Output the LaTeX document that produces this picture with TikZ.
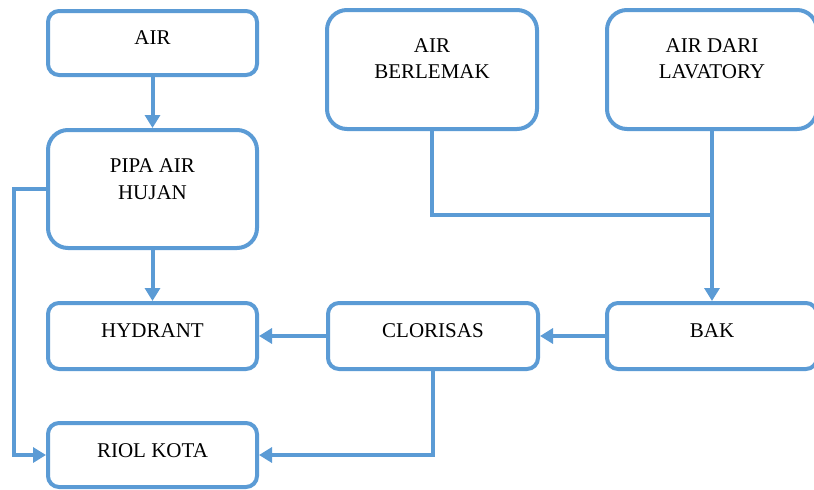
\documentclass[tikz,border=0pt]{standalone}
\usepackage{fontspec}
\setmainfont{Liberation Serif}
\usetikzlibrary{arrows.meta}
\definecolor{flowblue}{HTML}{5B9BD5}
\tikzset{
  box/.style={draw=flowblue, line width=4pt, fill=white, inner sep=0pt,
              minimum width=#1},
  box/.default=209pt,
  lbl/.style={anchor=base, inner sep=0pt, font=\fontsize{21}{26}\selectfont},
  flow/.style={draw=flowblue, line width=4pt},
  arr/.style={flow, -{Triangle[width=15pt,length=13pt]}}
}
\begin{document}
\begin{tikzpicture}[x=1pt, y=-1pt]
  \useasboundingbox (0,0) rectangle (814,490);

  % boxes
  \node[box, minimum height=64pt, rounded corners=11pt] (air) at (152.5,43) {};
  \node[box, minimum height=118pt, rounded corners=20pt] (pipa) at (152.5,189) {};
  \node[box, minimum height=66pt, rounded corners=11pt] (hydrant) at (152.5,336) {};
  \node[box, minimum height=64pt, rounded corners=11pt] (riol) at (152.5,455) {};
  \node[box=210pt, minimum height=119pt, rounded corners=20pt] (lemak) at (432,69.5) {};
  \node[box=210pt, minimum height=119pt, rounded corners=20pt] (lav) at (712,69.5) {};
  \node[box=210pt, minimum height=66pt, rounded corners=11pt] (clor) at (433,336) {};
  \node[box=210pt, minimum height=66pt, rounded corners=11pt] (bak) at (712,336) {};

  % labels
  \node[lbl] (air-t) at (152.5,44) {AIR};
  \node[lbl] (pipa-t1) at (152.5,172) {PIPA AIR};
  \node[lbl] (pipa-t2) at (152.5,199) {HUJAN};
  \node[lbl] (hydrant-t) at (152.5,337) {HYDRANT};
  \node[lbl] (riol-t) at (152.5,457) {RIOL KOTA};
  \node[lbl] (lemak-t1) at (432,52) {AIR};
  \node[lbl] (lemak-t2) at (432,78) {BERLEMAK};
  \node[lbl] (lav-t1) at (712,52) {AIR DARI};
  \node[lbl] (lav-t2) at (712,78) {LAVATORY};
  \node[lbl] (clor-t) at (433,337) {CLORISAS};
  \node[lbl] (bak-t) at (712,337) {BAK};

  % junction points
  \coordinate (join) at (lav.south |- 0,215);
  \coordinate (lefttop) at (14,0 |- pipa.west);
  \coordinate (leftbot) at (14,0 |- riol.west);
  \coordinate (clordown) at (clor.south |- riol.east);

  % connectors
  \draw[arr] (air) -- (pipa);
  \draw[arr] (pipa) -- (hydrant);
  \draw[flow] (lemak.south) |- (join);
  \draw[arr] (lav) -- (bak);
  \draw[arr] (bak) -- (clor);
  \draw[arr] (clor) -- (hydrant);
  \draw[arr] (pipa.west) -- (lefttop) -- (leftbot) -- (riol.west);
  \draw[arr] (clor.south) -- (clordown) -- (riol.east);
\end{tikzpicture}
\end{document}
